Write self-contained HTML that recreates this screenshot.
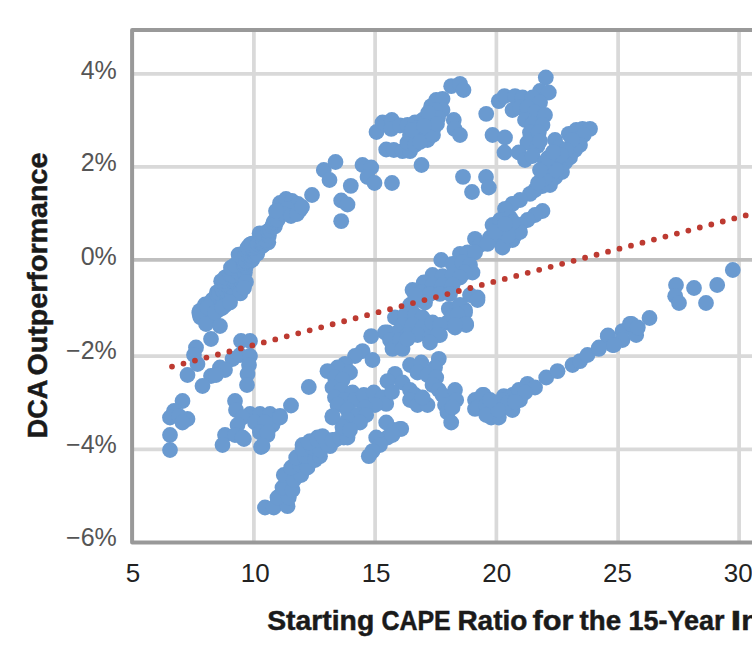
<!DOCTYPE html>
<html lang="en"><head><meta charset="utf-8"><title>DCA Outperformance vs Starting CAPE Ratio</title>
<style>html,body{margin:0;padding:0;background:#fff}body{width:752px;height:658px;overflow:hidden}svg{display:block}</style>
</head><body>
<svg width="752" height="658" viewBox="0 0 752 658">
<rect width="752" height="658" fill="#fff"/>
<g stroke="#d9d9d9" stroke-width="3.7" fill="none">
<line x1="253.9" y1="30.0" x2="253.9" y2="542.4"/>
<line x1="375.1" y1="30.0" x2="375.1" y2="542.4"/>
<line x1="496.4" y1="30.0" x2="496.4" y2="542.4"/>
<line x1="618.1" y1="30.0" x2="618.1" y2="542.4"/>
<line x1="739.1" y1="30.0" x2="739.1" y2="542.4"/>
<line x1="132.1" y1="73.9" x2="760" y2="73.9"/>
<line x1="132.1" y1="166.9" x2="760" y2="166.9"/>
<line x1="132.1" y1="356.1" x2="760" y2="356.1"/>
<line x1="132.1" y1="449.4" x2="760" y2="449.4"/>
</g>
<line x1="132.1" y1="259.9" x2="760" y2="259.9" stroke="#bfbfbf" stroke-width="3.7"/>
<path d="M770 30.0 H132.1 V542.4 H770" fill="none" stroke="#999" stroke-width="4" stroke-linejoin="round"/>
<g fill="#6a9ad0">
<circle cx="200.3" cy="317.1" r="7.9"/>
<circle cx="199.3" cy="312.7" r="7.9"/>
<circle cx="199.8" cy="310.8" r="7.9"/>
<circle cx="203.5" cy="314.4" r="7.9"/>
<circle cx="206.4" cy="313.6" r="7.9"/>
<circle cx="204.2" cy="313.1" r="7.9"/>
<circle cx="208.4" cy="316.3" r="7.9"/>
<circle cx="204.4" cy="307.6" r="7.9"/>
<circle cx="204.0" cy="308.0" r="7.9"/>
<circle cx="212.7" cy="315.5" r="7.9"/>
<circle cx="211.9" cy="312.7" r="7.9"/>
<circle cx="205.1" cy="304.5" r="7.9"/>
<circle cx="214.1" cy="310.9" r="7.9"/>
<circle cx="213.8" cy="309.0" r="7.9"/>
<circle cx="217.7" cy="310.4" r="7.9"/>
<circle cx="215.3" cy="309.1" r="7.9"/>
<circle cx="217.1" cy="310.4" r="7.9"/>
<circle cx="211.2" cy="302.2" r="7.9"/>
<circle cx="212.6" cy="299.6" r="7.9"/>
<circle cx="220.1" cy="306.2" r="7.9"/>
<circle cx="221.8" cy="308.1" r="7.9"/>
<circle cx="220.1" cy="303.5" r="7.9"/>
<circle cx="224.8" cy="305.5" r="7.9"/>
<circle cx="220.9" cy="303.5" r="7.9"/>
<circle cx="224.2" cy="302.9" r="7.9"/>
<circle cx="218.9" cy="297.6" r="7.9"/>
<circle cx="216.9" cy="292.4" r="7.9"/>
<circle cx="217.5" cy="294.5" r="7.9"/>
<circle cx="218.9" cy="292.8" r="7.9"/>
<circle cx="227.7" cy="300.4" r="7.9"/>
<circle cx="227.1" cy="297.2" r="7.9"/>
<circle cx="229.7" cy="298.7" r="7.9"/>
<circle cx="226.4" cy="294.0" r="7.9"/>
<circle cx="222.6" cy="288.7" r="7.9"/>
<circle cx="223.2" cy="290.9" r="7.9"/>
<circle cx="222.6" cy="289.8" r="7.9"/>
<circle cx="226.6" cy="291.4" r="7.9"/>
<circle cx="232.7" cy="292.1" r="7.9"/>
<circle cx="231.4" cy="292.1" r="7.9"/>
<circle cx="236.1" cy="291.8" r="7.9"/>
<circle cx="227.8" cy="286.0" r="7.9"/>
<circle cx="231.6" cy="286.9" r="7.9"/>
<circle cx="224.3" cy="283.7" r="7.9"/>
<circle cx="221.2" cy="281.2" r="7.9"/>
<circle cx="223.6" cy="280.4" r="7.9"/>
<circle cx="238.9" cy="285.9" r="7.9"/>
<circle cx="226.9" cy="281.0" r="7.9"/>
<circle cx="226.4" cy="281.2" r="7.9"/>
<circle cx="231.9" cy="280.3" r="7.9"/>
<circle cx="225.1" cy="277.3" r="7.9"/>
<circle cx="238.3" cy="281.3" r="7.9"/>
<circle cx="242.0" cy="281.9" r="7.9"/>
<circle cx="233.3" cy="279.1" r="7.9"/>
<circle cx="244.1" cy="282.2" r="7.9"/>
<circle cx="229.7" cy="274.3" r="7.9"/>
<circle cx="240.0" cy="279.3" r="7.9"/>
<circle cx="232.4" cy="275.5" r="7.9"/>
<circle cx="242.6" cy="277.8" r="7.9"/>
<circle cx="240.8" cy="274.0" r="7.9"/>
<circle cx="236.5" cy="270.7" r="7.9"/>
<circle cx="231.0" cy="267.7" r="7.9"/>
<circle cx="241.4" cy="270.7" r="7.9"/>
<circle cx="244.9" cy="272.4" r="7.9"/>
<circle cx="236.3" cy="266.0" r="7.9"/>
<circle cx="234.8" cy="265.2" r="7.9"/>
<circle cx="245.5" cy="267.4" r="7.9"/>
<circle cx="243.0" cy="263.7" r="7.9"/>
<circle cx="243.9" cy="264.8" r="7.9"/>
<circle cx="244.2" cy="262.3" r="7.9"/>
<circle cx="244.7" cy="263.2" r="7.9"/>
<circle cx="247.5" cy="261.9" r="7.9"/>
<circle cx="248.7" cy="259.9" r="7.9"/>
<circle cx="246.0" cy="282.0" r="7.9"/>
<circle cx="240.3" cy="293.4" r="7.9"/>
<circle cx="244.0" cy="288.0" r="7.9"/>
<circle cx="238.6" cy="254.7" r="7.9"/>
<circle cx="246.3" cy="261.2" r="7.9"/>
<circle cx="250.5" cy="260.9" r="7.9"/>
<circle cx="245.4" cy="254.3" r="7.9"/>
<circle cx="252.1" cy="259.7" r="7.9"/>
<circle cx="251.9" cy="259.6" r="7.9"/>
<circle cx="251.0" cy="255.7" r="7.9"/>
<circle cx="246.6" cy="250.0" r="7.9"/>
<circle cx="247.6" cy="247.5" r="7.9"/>
<circle cx="254.9" cy="254.9" r="7.9"/>
<circle cx="254.1" cy="250.4" r="7.9"/>
<circle cx="257.2" cy="253.6" r="7.9"/>
<circle cx="252.6" cy="248.2" r="7.9"/>
<circle cx="249.9" cy="244.7" r="7.9"/>
<circle cx="251.9" cy="243.7" r="7.9"/>
<circle cx="256.4" cy="246.3" r="7.9"/>
<circle cx="258.6" cy="244.3" r="7.9"/>
<circle cx="257.9" cy="244.0" r="7.9"/>
<circle cx="261.7" cy="246.3" r="7.9"/>
<circle cx="263.6" cy="245.0" r="7.9"/>
<circle cx="261.7" cy="242.8" r="7.9"/>
<circle cx="263.2" cy="242.9" r="7.9"/>
<circle cx="263.2" cy="240.3" r="7.9"/>
<circle cx="268.3" cy="242.3" r="7.9"/>
<circle cx="265.7" cy="239.9" r="7.9"/>
<circle cx="259.6" cy="233.4" r="7.9"/>
<circle cx="263.3" cy="233.4" r="7.9"/>
<circle cx="268.9" cy="235.5" r="7.9"/>
<circle cx="268.1" cy="231.2" r="7.9"/>
<circle cx="270.1" cy="229.9" r="7.9"/>
<circle cx="272.2" cy="226.3" r="7.9"/>
<circle cx="274.9" cy="226.3" r="7.9"/>
<circle cx="273.5" cy="222.3" r="7.9"/>
<circle cx="275.1" cy="220.1" r="7.9"/>
<circle cx="277.7" cy="219.9" r="7.9"/>
<circle cx="280.0" cy="203.0" r="7.9"/>
<circle cx="286.0" cy="199.0" r="7.9"/>
<circle cx="292.0" cy="201.0" r="7.9"/>
<circle cx="298.0" cy="204.0" r="7.9"/>
<circle cx="300.0" cy="210.0" r="7.9"/>
<circle cx="294.0" cy="212.0" r="7.9"/>
<circle cx="287.0" cy="209.0" r="7.9"/>
<circle cx="283.0" cy="214.0" r="7.9"/>
<circle cx="291.0" cy="216.0" r="7.9"/>
<circle cx="297.0" cy="214.0" r="7.9"/>
<circle cx="276.0" cy="211.0" r="7.9"/>
<circle cx="302.0" cy="207.0" r="7.9"/>
<circle cx="200.0" cy="315.0" r="7.9"/>
<circle cx="206.0" cy="324.0" r="7.9"/>
<circle cx="207.5" cy="307.5" r="7.9"/>
<circle cx="215.0" cy="312.5" r="7.9"/>
<circle cx="220.0" cy="326.0" r="7.9"/>
<circle cx="222.5" cy="307.5" r="7.9"/>
<circle cx="230.0" cy="302.5" r="7.9"/>
<circle cx="211.0" cy="339.0" r="7.9"/>
<circle cx="196.0" cy="347.5" r="7.9"/>
<circle cx="194.0" cy="355.0" r="7.9"/>
<circle cx="197.5" cy="364.0" r="7.9"/>
<circle cx="187.5" cy="375.0" r="7.9"/>
<circle cx="241.0" cy="341.0" r="7.9"/>
<circle cx="250.0" cy="341.0" r="7.9"/>
<circle cx="232.5" cy="359.0" r="7.9"/>
<circle cx="240.0" cy="355.0" r="7.9"/>
<circle cx="250.0" cy="356.0" r="7.9"/>
<circle cx="249.0" cy="365.0" r="7.9"/>
<circle cx="247.5" cy="374.0" r="7.9"/>
<circle cx="247.0" cy="385.0" r="7.9"/>
<circle cx="220.0" cy="367.5" r="7.9"/>
<circle cx="211.0" cy="376.0" r="7.9"/>
<circle cx="202.5" cy="386.0" r="7.9"/>
<circle cx="225.0" cy="370.0" r="7.9"/>
<circle cx="216.0" cy="375.0" r="7.9"/>
<circle cx="182.5" cy="401.0" r="7.9"/>
<circle cx="174.0" cy="411.0" r="7.9"/>
<circle cx="170.0" cy="417.5" r="7.9"/>
<circle cx="187.5" cy="419.0" r="7.9"/>
<circle cx="179.0" cy="416.0" r="7.9"/>
<circle cx="182.5" cy="422.5" r="7.9"/>
<circle cx="170.0" cy="435.0" r="7.9"/>
<circle cx="170.0" cy="450.0" r="7.9"/>
<circle cx="235.0" cy="401.0" r="7.9"/>
<circle cx="236.0" cy="410.0" r="7.9"/>
<circle cx="250.0" cy="414.0" r="7.9"/>
<circle cx="242.5" cy="417.5" r="7.9"/>
<circle cx="237.5" cy="425.0" r="7.9"/>
<circle cx="225.0" cy="435.0" r="7.9"/>
<circle cx="235.0" cy="435.0" r="7.9"/>
<circle cx="244.0" cy="439.0" r="7.9"/>
<circle cx="222.5" cy="445.0" r="7.9"/>
<circle cx="260.0" cy="414.0" r="7.9"/>
<circle cx="270.0" cy="414.0" r="7.9"/>
<circle cx="280.0" cy="416.0" r="7.9"/>
<circle cx="291.0" cy="405.5" r="7.9"/>
<circle cx="262.5" cy="422.5" r="7.9"/>
<circle cx="272.5" cy="425.0" r="7.9"/>
<circle cx="260.0" cy="430.0" r="7.9"/>
<circle cx="267.5" cy="435.0" r="7.9"/>
<circle cx="261.0" cy="447.0" r="7.9"/>
<circle cx="255.0" cy="422.5" r="7.9"/>
<circle cx="265.0" cy="422.5" r="7.9"/>
<circle cx="260.0" cy="432.5" r="7.9"/>
<circle cx="267.5" cy="432.5" r="7.9"/>
<circle cx="262.5" cy="446.0" r="7.9"/>
<circle cx="242.5" cy="437.5" r="7.9"/>
<circle cx="280.0" cy="417.5" r="7.9"/>
<circle cx="308.8" cy="387.0" r="7.9"/>
<circle cx="312.0" cy="195.0" r="7.9"/>
<circle cx="323.8" cy="170.0" r="7.9"/>
<circle cx="335.5" cy="162.0" r="7.9"/>
<circle cx="329.5" cy="180.0" r="7.9"/>
<circle cx="350.8" cy="185.8" r="7.9"/>
<circle cx="341.2" cy="200.5" r="7.9"/>
<circle cx="347.5" cy="204.5" r="7.9"/>
<circle cx="341.2" cy="221.2" r="7.9"/>
<circle cx="362.5" cy="165.0" r="7.9"/>
<circle cx="371.2" cy="167.5" r="7.9"/>
<circle cx="367.5" cy="177.0" r="7.9"/>
<circle cx="374.5" cy="183.0" r="7.9"/>
<circle cx="392.0" cy="183.0" r="7.9"/>
<circle cx="421.5" cy="165.0" r="7.9"/>
<circle cx="463.0" cy="176.8" r="7.9"/>
<circle cx="472.0" cy="192.0" r="7.9"/>
<circle cx="486.0" cy="177.0" r="7.9"/>
<circle cx="488.8" cy="187.5" r="7.9"/>
<circle cx="376.5" cy="132.0" r="7.9"/>
<circle cx="382.5" cy="122.5" r="7.9"/>
<circle cx="391.8" cy="120.0" r="7.9"/>
<circle cx="391.2" cy="128.8" r="7.9"/>
<circle cx="400.0" cy="125.5" r="7.9"/>
<circle cx="386.2" cy="149.5" r="7.9"/>
<circle cx="393.8" cy="150.0" r="7.9"/>
<circle cx="402.5" cy="151.2" r="7.9"/>
<circle cx="410.0" cy="151.2" r="7.9"/>
<circle cx="407.5" cy="125.0" r="7.9"/>
<circle cx="415.0" cy="122.5" r="7.9"/>
<circle cx="422.5" cy="120.0" r="7.9"/>
<circle cx="430.0" cy="125.0" r="7.9"/>
<circle cx="433.8" cy="127.5" r="7.9"/>
<circle cx="410.0" cy="135.0" r="7.9"/>
<circle cx="417.5" cy="137.5" r="7.9"/>
<circle cx="425.0" cy="135.0" r="7.9"/>
<circle cx="427.5" cy="140.0" r="7.9"/>
<circle cx="407.5" cy="142.5" r="7.9"/>
<circle cx="415.0" cy="145.0" r="7.9"/>
<circle cx="431.2" cy="106.2" r="7.9"/>
<circle cx="436.2" cy="100.0" r="7.9"/>
<circle cx="442.5" cy="98.8" r="7.9"/>
<circle cx="442.5" cy="110.0" r="7.9"/>
<circle cx="435.0" cy="110.0" r="7.9"/>
<circle cx="438.0" cy="118.0" r="7.9"/>
<circle cx="428.0" cy="113.0" r="7.9"/>
<circle cx="451.2" cy="86.2" r="7.9"/>
<circle cx="460.0" cy="83.8" r="7.9"/>
<circle cx="463.5" cy="90.0" r="7.9"/>
<circle cx="453.8" cy="120.0" r="7.9"/>
<circle cx="454.5" cy="128.8" r="7.9"/>
<circle cx="460.0" cy="135.0" r="7.9"/>
<circle cx="486.2" cy="113.8" r="7.9"/>
<circle cx="492.5" cy="135.0" r="7.9"/>
<circle cx="505.0" cy="137.5" r="7.9"/>
<circle cx="504.5" cy="152.5" r="7.9"/>
<circle cx="545.8" cy="77.5" r="7.9"/>
<circle cx="498.8" cy="101.2" r="7.9"/>
<circle cx="504.5" cy="96.2" r="7.9"/>
<circle cx="515.0" cy="96.2" r="7.9"/>
<circle cx="522.5" cy="97.5" r="7.9"/>
<circle cx="512.5" cy="110.0" r="7.9"/>
<circle cx="520.0" cy="107.5" r="7.9"/>
<circle cx="540.0" cy="91.0" r="7.9"/>
<circle cx="548.8" cy="92.5" r="7.9"/>
<circle cx="532.5" cy="97.5" r="7.9"/>
<circle cx="540.0" cy="102.5" r="7.9"/>
<circle cx="527.5" cy="107.5" r="7.9"/>
<circle cx="535.0" cy="112.5" r="7.9"/>
<circle cx="545.0" cy="115.0" r="7.9"/>
<circle cx="525.0" cy="120.0" r="7.9"/>
<circle cx="532.5" cy="123.8" r="7.9"/>
<circle cx="542.5" cy="125.0" r="7.9"/>
<circle cx="530.0" cy="132.5" r="7.9"/>
<circle cx="538.8" cy="132.5" r="7.9"/>
<circle cx="527.5" cy="142.5" r="7.9"/>
<circle cx="537.5" cy="146.0" r="7.9"/>
<circle cx="540.0" cy="141.0" r="7.9"/>
<circle cx="518.8" cy="152.5" r="7.9"/>
<circle cx="525.0" cy="160.0" r="7.9"/>
<circle cx="532.5" cy="156.0" r="7.9"/>
<circle cx="555.0" cy="140.0" r="7.9"/>
<circle cx="558.8" cy="147.5" r="7.9"/>
<circle cx="568.8" cy="133.8" r="7.9"/>
<circle cx="576.2" cy="130.0" r="7.9"/>
<circle cx="582.5" cy="128.8" r="7.9"/>
<circle cx="590.0" cy="128.8" r="7.9"/>
<circle cx="583.8" cy="135.0" r="7.9"/>
<circle cx="580.0" cy="145.0" r="7.9"/>
<circle cx="575.0" cy="150.0" r="7.9"/>
<circle cx="570.0" cy="157.5" r="7.9"/>
<circle cx="565.0" cy="162.5" r="7.9"/>
<circle cx="560.0" cy="167.5" r="7.9"/>
<circle cx="555.0" cy="160.0" r="7.9"/>
<circle cx="550.0" cy="167.5" r="7.9"/>
<circle cx="547.5" cy="175.0" r="7.9"/>
<circle cx="555.0" cy="177.5" r="7.9"/>
<circle cx="550.0" cy="185.0" r="7.9"/>
<circle cx="542.5" cy="186.0" r="7.9"/>
<circle cx="535.0" cy="190.0" r="7.9"/>
<circle cx="530.0" cy="193.8" r="7.9"/>
<circle cx="520.0" cy="200.0" r="7.9"/>
<circle cx="512.5" cy="203.8" r="7.9"/>
<circle cx="505.0" cy="208.8" r="7.9"/>
<circle cx="572.0" cy="140.0" r="7.9"/>
<circle cx="566.0" cy="150.0" r="7.9"/>
<circle cx="561.0" cy="155.0" r="7.9"/>
<circle cx="545.0" cy="178.0" r="7.9"/>
<circle cx="538.0" cy="183.0" r="7.9"/>
<circle cx="562.0" cy="172.0" r="7.9"/>
<circle cx="556.0" cy="170.0" r="7.9"/>
<circle cx="542.5" cy="211.0" r="7.9"/>
<circle cx="535.0" cy="215.0" r="7.9"/>
<circle cx="527.5" cy="220.0" r="7.9"/>
<circle cx="520.0" cy="225.0" r="7.9"/>
<circle cx="492.5" cy="225.0" r="7.9"/>
<circle cx="500.0" cy="220.0" r="7.9"/>
<circle cx="510.0" cy="217.5" r="7.9"/>
<circle cx="500.0" cy="230.0" r="7.9"/>
<circle cx="510.0" cy="230.0" r="7.9"/>
<circle cx="517.5" cy="230.0" r="7.9"/>
<circle cx="497.5" cy="240.0" r="7.9"/>
<circle cx="505.0" cy="242.5" r="7.9"/>
<circle cx="512.5" cy="240.0" r="7.9"/>
<circle cx="502.5" cy="247.5" r="7.9"/>
<circle cx="490.0" cy="237.5" r="7.9"/>
<circle cx="475.0" cy="238.8" r="7.9"/>
<circle cx="480.0" cy="245.0" r="7.9"/>
<circle cx="487.5" cy="243.8" r="7.9"/>
<circle cx="460.0" cy="253.8" r="7.9"/>
<circle cx="467.5" cy="252.5" r="7.9"/>
<circle cx="475.0" cy="252.5" r="7.9"/>
<circle cx="441.2" cy="260.0" r="7.9"/>
<circle cx="452.5" cy="263.8" r="7.9"/>
<circle cx="462.5" cy="262.5" r="7.9"/>
<circle cx="470.0" cy="265.0" r="7.9"/>
<circle cx="472.5" cy="272.5" r="7.9"/>
<circle cx="465.0" cy="272.5" r="7.9"/>
<circle cx="432.5" cy="275.0" r="7.9"/>
<circle cx="442.5" cy="276.2" r="7.9"/>
<circle cx="452.5" cy="275.0" r="7.9"/>
<circle cx="460.0" cy="277.5" r="7.9"/>
<circle cx="423.8" cy="282.5" r="7.9"/>
<circle cx="432.5" cy="285.0" r="7.9"/>
<circle cx="442.5" cy="285.0" r="7.9"/>
<circle cx="452.5" cy="285.0" r="7.9"/>
<circle cx="412.5" cy="290.0" r="7.9"/>
<circle cx="421.2" cy="292.5" r="7.9"/>
<circle cx="430.0" cy="293.8" r="7.9"/>
<circle cx="440.0" cy="293.8" r="7.9"/>
<circle cx="450.0" cy="293.8" r="7.9"/>
<circle cx="417.5" cy="300.0" r="7.9"/>
<circle cx="410.0" cy="305.0" r="7.9"/>
<circle cx="425.0" cy="302.5" r="7.9"/>
<circle cx="477.5" cy="297.5" r="7.9"/>
<circle cx="470.0" cy="295.0" r="7.9"/>
<circle cx="448.8" cy="308.8" r="7.9"/>
<circle cx="457.5" cy="307.5" r="7.9"/>
<circle cx="465.0" cy="310.0" r="7.9"/>
<circle cx="452.5" cy="316.2" r="7.9"/>
<circle cx="462.5" cy="317.5" r="7.9"/>
<circle cx="466.2" cy="325.0" r="7.9"/>
<circle cx="455.0" cy="327.5" r="7.9"/>
<circle cx="447.5" cy="322.5" r="7.9"/>
<circle cx="395.0" cy="317.5" r="7.9"/>
<circle cx="405.0" cy="315.0" r="7.9"/>
<circle cx="415.0" cy="315.0" r="7.9"/>
<circle cx="422.5" cy="317.5" r="7.9"/>
<circle cx="402.5" cy="325.0" r="7.9"/>
<circle cx="412.5" cy="325.0" r="7.9"/>
<circle cx="422.5" cy="327.5" r="7.9"/>
<circle cx="432.5" cy="322.5" r="7.9"/>
<circle cx="440.0" cy="325.0" r="7.9"/>
<circle cx="387.5" cy="332.5" r="7.9"/>
<circle cx="397.5" cy="332.5" r="7.9"/>
<circle cx="407.5" cy="335.0" r="7.9"/>
<circle cx="417.5" cy="335.0" r="7.9"/>
<circle cx="430.0" cy="337.5" r="7.9"/>
<circle cx="440.0" cy="335.0" r="7.9"/>
<circle cx="385.0" cy="332.5" r="7.9"/>
<circle cx="390.0" cy="340.0" r="7.9"/>
<circle cx="392.5" cy="348.8" r="7.9"/>
<circle cx="400.0" cy="340.0" r="7.9"/>
<circle cx="402.5" cy="348.8" r="7.9"/>
<circle cx="407.5" cy="338.8" r="7.9"/>
<circle cx="415.0" cy="295.0" r="7.9"/>
<circle cx="437.5" cy="335.0" r="7.9"/>
<circle cx="430.0" cy="342.5" r="7.9"/>
<circle cx="460.0" cy="305.0" r="7.9"/>
<circle cx="477.5" cy="300.0" r="7.9"/>
<circle cx="465.0" cy="312.5" r="7.9"/>
<circle cx="457.5" cy="315.0" r="7.9"/>
<circle cx="466.0" cy="323.8" r="7.9"/>
<circle cx="455.0" cy="325.0" r="7.9"/>
<circle cx="371.2" cy="336.2" r="7.9"/>
<circle cx="362.5" cy="351.2" r="7.9"/>
<circle cx="355.0" cy="356.0" r="7.9"/>
<circle cx="372.5" cy="360.0" r="7.9"/>
<circle cx="345.0" cy="363.8" r="7.9"/>
<circle cx="337.5" cy="367.5" r="7.9"/>
<circle cx="327.5" cy="371.2" r="7.9"/>
<circle cx="350.0" cy="372.5" r="7.9"/>
<circle cx="335.0" cy="377.5" r="7.9"/>
<circle cx="342.5" cy="380.0" r="7.9"/>
<circle cx="332.5" cy="387.5" r="7.9"/>
<circle cx="341.2" cy="390.0" r="7.9"/>
<circle cx="352.5" cy="392.5" r="7.9"/>
<circle cx="335.0" cy="397.5" r="7.9"/>
<circle cx="345.0" cy="400.0" r="7.9"/>
<circle cx="355.0" cy="400.0" r="7.9"/>
<circle cx="363.8" cy="395.0" r="7.9"/>
<circle cx="373.8" cy="392.5" r="7.9"/>
<circle cx="382.5" cy="397.5" r="7.9"/>
<circle cx="386.2" cy="403.8" r="7.9"/>
<circle cx="375.0" cy="405.0" r="7.9"/>
<circle cx="365.0" cy="407.5" r="7.9"/>
<circle cx="337.5" cy="405.0" r="7.9"/>
<circle cx="347.5" cy="410.0" r="7.9"/>
<circle cx="357.5" cy="415.0" r="7.9"/>
<circle cx="366.2" cy="415.0" r="7.9"/>
<circle cx="332.5" cy="417.5" r="7.9"/>
<circle cx="347.5" cy="420.0" r="7.9"/>
<circle cx="360.0" cy="422.5" r="7.9"/>
<circle cx="345.0" cy="427.5" r="7.9"/>
<circle cx="386.2" cy="422.5" r="7.9"/>
<circle cx="393.8" cy="430.0" r="7.9"/>
<circle cx="401.2" cy="428.8" r="7.9"/>
<circle cx="387.5" cy="437.5" r="7.9"/>
<circle cx="376.2" cy="437.5" r="7.9"/>
<circle cx="380.0" cy="445.0" r="7.9"/>
<circle cx="372.5" cy="451.2" r="7.9"/>
<circle cx="368.8" cy="456.2" r="7.9"/>
<circle cx="343.8" cy="437.5" r="7.9"/>
<circle cx="335.0" cy="440.0" r="7.9"/>
<circle cx="325.0" cy="440.0" r="7.9"/>
<circle cx="317.5" cy="437.5" r="7.9"/>
<circle cx="310.0" cy="441.2" r="7.9"/>
<circle cx="302.5" cy="445.0" r="7.9"/>
<circle cx="330.0" cy="446.2" r="7.9"/>
<circle cx="395.0" cy="373.8" r="7.9"/>
<circle cx="387.5" cy="381.2" r="7.9"/>
<circle cx="402.5" cy="382.5" r="7.9"/>
<circle cx="410.0" cy="365.0" r="7.9"/>
<circle cx="421.2" cy="362.5" r="7.9"/>
<circle cx="417.5" cy="372.5" r="7.9"/>
<circle cx="438.8" cy="358.8" r="7.9"/>
<circle cx="435.0" cy="367.5" r="7.9"/>
<circle cx="427.5" cy="375.0" r="7.9"/>
<circle cx="436.2" cy="377.5" r="7.9"/>
<circle cx="432.5" cy="385.0" r="7.9"/>
<circle cx="438.8" cy="390.0" r="7.9"/>
<circle cx="410.0" cy="390.0" r="7.9"/>
<circle cx="415.0" cy="395.0" r="7.9"/>
<circle cx="410.0" cy="400.0" r="7.9"/>
<circle cx="417.5" cy="405.0" r="7.9"/>
<circle cx="427.5" cy="405.0" r="7.9"/>
<circle cx="422.5" cy="397.5" r="7.9"/>
<circle cx="442.5" cy="395.0" r="7.9"/>
<circle cx="445.0" cy="405.0" r="7.9"/>
<circle cx="447.5" cy="412.5" r="7.9"/>
<circle cx="451.2" cy="422.5" r="7.9"/>
<circle cx="455.0" cy="390.0" r="7.9"/>
<circle cx="456.2" cy="400.0" r="7.9"/>
<circle cx="452.5" cy="407.5" r="7.9"/>
<circle cx="265.0" cy="507.5" r="7.9"/>
<circle cx="273.8" cy="507.5" r="7.9"/>
<circle cx="287.5" cy="506.2" r="7.9"/>
<circle cx="277.5" cy="497.5" r="7.9"/>
<circle cx="288.8" cy="497.5" r="7.9"/>
<circle cx="282.5" cy="487.5" r="7.9"/>
<circle cx="292.5" cy="490.0" r="7.9"/>
<circle cx="283.8" cy="475.0" r="7.9"/>
<circle cx="293.8" cy="480.0" r="7.9"/>
<circle cx="301.2" cy="475.0" r="7.9"/>
<circle cx="291.2" cy="467.5" r="7.9"/>
<circle cx="300.0" cy="465.0" r="7.9"/>
<circle cx="307.5" cy="467.5" r="7.9"/>
<circle cx="296.2" cy="457.5" r="7.9"/>
<circle cx="305.0" cy="456.2" r="7.9"/>
<circle cx="315.0" cy="460.0" r="7.9"/>
<circle cx="320.0" cy="456.2" r="7.9"/>
<circle cx="302.5" cy="448.8" r="7.9"/>
<circle cx="312.5" cy="447.5" r="7.9"/>
<circle cx="320.0" cy="450.0" r="7.9"/>
<circle cx="308.8" cy="442.5" r="7.9"/>
<circle cx="317.5" cy="440.0" r="7.9"/>
<circle cx="327.5" cy="443.8" r="7.9"/>
<circle cx="322.5" cy="436.2" r="7.9"/>
<circle cx="332.5" cy="440.0" r="7.9"/>
<circle cx="340.0" cy="437.5" r="7.9"/>
<circle cx="347.5" cy="437.5" r="7.9"/>
<circle cx="342.5" cy="427.5" r="7.9"/>
<circle cx="350.0" cy="430.0" r="7.9"/>
<circle cx="332.5" cy="416.2" r="7.9"/>
<circle cx="400.0" cy="428.8" r="7.9"/>
<circle cx="392.5" cy="435.0" r="7.9"/>
<circle cx="475.0" cy="400.0" r="7.9"/>
<circle cx="483.8" cy="395.0" r="7.9"/>
<circle cx="475.0" cy="408.8" r="7.9"/>
<circle cx="485.0" cy="407.5" r="7.9"/>
<circle cx="491.2" cy="417.5" r="7.9"/>
<circle cx="498.8" cy="417.5" r="7.9"/>
<circle cx="495.0" cy="402.5" r="7.9"/>
<circle cx="503.8" cy="396.2" r="7.9"/>
<circle cx="505.0" cy="407.5" r="7.9"/>
<circle cx="512.5" cy="410.0" r="7.9"/>
<circle cx="512.5" cy="395.0" r="7.9"/>
<circle cx="518.8" cy="390.0" r="7.9"/>
<circle cx="520.0" cy="400.0" r="7.9"/>
<circle cx="527.5" cy="383.8" r="7.9"/>
<circle cx="535.0" cy="387.5" r="7.9"/>
<circle cx="525.0" cy="392.5" r="7.9"/>
<circle cx="546.2" cy="377.5" r="7.9"/>
<circle cx="557.5" cy="371.2" r="7.9"/>
<circle cx="572.5" cy="365.0" r="7.9"/>
<circle cx="580.0" cy="361.2" r="7.9"/>
<circle cx="587.5" cy="355.0" r="7.9"/>
<circle cx="598.8" cy="348.8" r="7.9"/>
<circle cx="608.0" cy="335.5" r="7.9"/>
<circle cx="612.5" cy="345.0" r="7.9"/>
<circle cx="622.5" cy="331.2" r="7.9"/>
<circle cx="622.5" cy="340.0" r="7.9"/>
<circle cx="630.0" cy="323.8" r="7.9"/>
<circle cx="636.2" cy="335.0" r="7.9"/>
<circle cx="649.5" cy="318.0" r="7.9"/>
<circle cx="631.5" cy="323.8" r="7.9"/>
<circle cx="637.8" cy="327.5" r="7.9"/>
<circle cx="607.8" cy="336.2" r="7.9"/>
<circle cx="614.0" cy="345.0" r="7.9"/>
<circle cx="599.0" cy="347.5" r="7.9"/>
<circle cx="732.8" cy="270.0" r="7.9"/>
<circle cx="717.2" cy="285.0" r="7.9"/>
<circle cx="706.0" cy="303.0" r="7.9"/>
<circle cx="694.0" cy="288.0" r="7.9"/>
<circle cx="676.0" cy="285.0" r="7.9"/>
<circle cx="675.2" cy="296.2" r="7.9"/>
<circle cx="679.0" cy="303.0" r="7.9"/>
<circle cx="482.5" cy="395.0" r="7.9"/>
<circle cx="477.5" cy="407.5" r="7.9"/>
<circle cx="486.2" cy="405.0" r="7.9"/>
<circle cx="486.2" cy="415.0" r="7.9"/>
<circle cx="417.0" cy="128.0" r="7.9"/>
<circle cx="422.0" cy="130.0" r="7.9"/>
<circle cx="412.0" cy="130.0" r="7.9"/>
<circle cx="430.0" cy="132.0" r="7.9"/>
<circle cx="420.0" cy="142.0" r="7.9"/>
<circle cx="433.0" cy="135.0" r="7.9"/>
<circle cx="437.0" cy="124.0" r="7.9"/>
<circle cx="424.0" cy="126.0" r="7.9"/>
<circle cx="545.0" cy="162.0" r="7.9"/>
<circle cx="540.0" cy="170.0" r="7.9"/>
<circle cx="548.0" cy="158.0" r="7.9"/>
<circle cx="553.0" cy="152.0" r="7.9"/>
<circle cx="515.0" cy="235.0" r="7.9"/>
<circle cx="520.0" cy="232.0" r="7.9"/>
<circle cx="508.0" cy="236.0" r="7.9"/>
<circle cx="495.0" cy="232.0" r="7.9"/>
<circle cx="513.0" cy="222.0" r="7.9"/>
<circle cx="505.0" cy="224.0" r="7.9"/>
<circle cx="503.0" cy="400.0" r="7.9"/>
<circle cx="508.0" cy="403.0" r="7.9"/>
<circle cx="515.0" cy="402.0" r="7.9"/>
<circle cx="498.0" cy="410.0" r="7.9"/>
<circle cx="490.0" cy="400.0" r="7.9"/>
<circle cx="392.0" cy="392.0" r="7.9"/>
</g>
<line x1="172.0" y1="366.6" x2="790" y2="203.76" stroke="#bd3a31" stroke-width="5.8" stroke-linecap="round" stroke-dasharray="0 11.866"/>
<g font-family="'Liberation Sans', sans-serif" font-size="25" fill="#555" text-anchor="end">
<text x="116.8" y="78.5">4%</text>
<text x="116.8" y="171.4">2%</text>
<text x="116.8" y="265">0%</text>
<text x="116.8" y="359.2">−2%</text>
<text x="116.8" y="453">−4%</text>
<text x="116.8" y="545.5">−6%</text>
</g>
<g font-family="'Liberation Sans', sans-serif" font-size="26" fill="#222" text-anchor="middle">
<text x="132.9" y="581.8">5</text>
<text x="255.3" y="581.8">10</text>
<text x="376.1" y="581.8">15</text>
<text x="496.8" y="581.8">20</text>
<text x="617.5" y="581.8">25</text>
<text x="738.3" y="581.8">30</text>
</g>
<g id="xt" font-family="'Liberation Sans', sans-serif" font-weight="bold" fill="#1a1a1a" stroke="#1a1a1a" stroke-width="0.5" font-size="28.2">
<text x="267.2" y="630.4" textLength="107" lengthAdjust="spacingAndGlyphs">Starting</text>
<text x="381.4" y="630.4" textLength="69.3" lengthAdjust="spacingAndGlyphs">CAPE</text>
<text x="457.4" y="630.4" textLength="70" lengthAdjust="spacingAndGlyphs">Ratio</text>
<text x="532.4" y="630.4" textLength="41" lengthAdjust="spacingAndGlyphs">for</text>
<text x="579.6" y="630.4" textLength="41.5" lengthAdjust="spacingAndGlyphs">the</text>
<text x="628.5" y="630.4" textLength="96" lengthAdjust="spacingAndGlyphs">15-Year</text>
<text x="730.6" y="630.4" textLength="10.8" lengthAdjust="spacingAndGlyphs">I</text>
<text x="741.2" y="630.4" textLength="150" lengthAdjust="spacingAndGlyphs">nvestment</text>
<text x="1000" y="630.4">Period</text>
</g>
<g id="yt" font-family="'Liberation Sans', sans-serif" font-weight="bold" fill="#1a1a1a" stroke="#1a1a1a" stroke-width="0.5" font-size="28.2" transform="translate(46.9 436.5) rotate(-90)">
<text x="-1.8" y="0" textLength="58.5" lengthAdjust="spacingAndGlyphs">DCA</text>
<text x="60.9" y="0" textLength="223" lengthAdjust="spacingAndGlyphs">Outperformance</text>
</g>
</svg>
</body></html>
